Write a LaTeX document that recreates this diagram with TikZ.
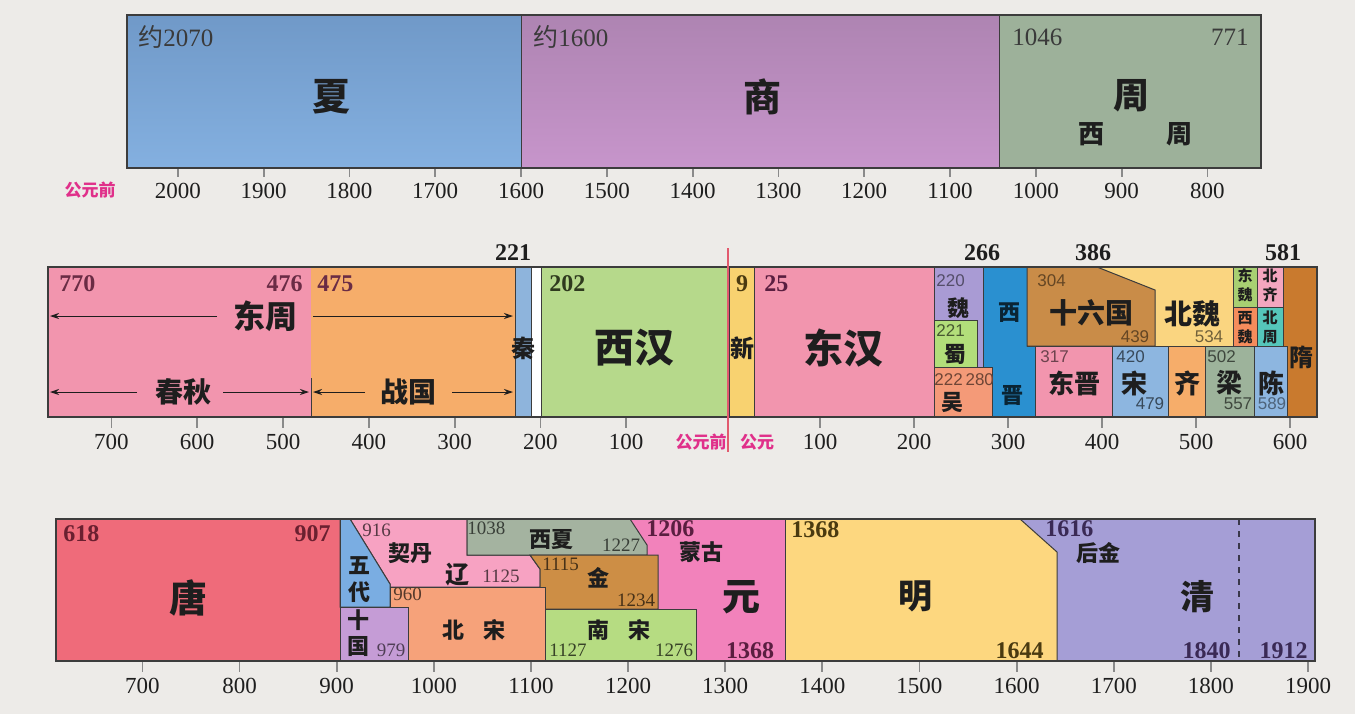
\documentclass[tikz,border=0pt]{standalone}
\usepackage{fontspec}
\setmainfont{Liberation Serif}
\newfontfamily\cjk{Noto Sans CJK SC}
\newfontfamily\lsans{Liberation Sans}
\usetikzlibrary{arrows.meta}
\definecolor{bg}{HTML}{EDEBE8}
\definecolor{lc}{HTML}{3C3C3C}
\definecolor{ink}{HTML}{1E1E1E}
\definecolor{tkc}{HTML}{8A8A8A}
\definecolor{mag}{HTML}{E0308A}
\definecolor{xiaA}{HTML}{7099C8}
\definecolor{xiaB}{HTML}{84B0E0}
\definecolor{shangA}{HTML}{AE84B2}
\definecolor{shangB}{HTML}{C795CB}
\definecolor{zhou}{HTML}{9DB19A}
\definecolor{mpink}{HTML}{F295AE}
\definecolor{morange}{HTML}{F6AD6A}
\definecolor{qin}{HTML}{8EB4DC}
\definecolor{xihan}{HTML}{B6D98B}
\definecolor{xin}{HTML}{F8D270}
\definecolor{wei}{HTML}{A99BD4}
\definecolor{shu}{HTML}{B2DE7A}
\definecolor{wu}{HTML}{F49A78}
\definecolor{xijin}{HTML}{2A90D0}
\definecolor{beiwei}{HTML}{FAD580}
\definecolor{sld}{HTML}{C98C48}
\definecolor{lblue}{HTML}{8DB6E0}
\definecolor{liang}{HTML}{9DB39B}
\definecolor{dongwei}{HTML}{A8CF72}
\definecolor{xiwei}{HTML}{F58C5C}
\definecolor{beiqi}{HTML}{F4A6BF}
\definecolor{beizhou}{HTML}{55C6BA}
\definecolor{sui}{HTML}{C97A2E}
\definecolor{tang}{HTML}{EF6B7A}
\definecolor{qing}{HTML}{A59ED6}
\definecolor{ming}{HTML}{FDD77F}
\definecolor{yuan}{HTML}{F282BB}
\definecolor{liao}{HTML}{F7A2C2}
\definecolor{xixia}{HTML}{A4B3A0}
\definecolor{jin}{HTML}{CD8E45}
\definecolor{wudai}{HTML}{7AADE2}
\definecolor{shiguo}{HTML}{C59CD6}
\definecolor{beisong}{HTML}{F6A27A}
\definecolor{nansong}{HTML}{B6DC82}
\definecolor{numA}{HTML}{6A2C45}
\definecolor{numB}{HTML}{5A1E40}
\definecolor{numC}{HTML}{4A3A10}
\definecolor{numD}{HTML}{3A2A55}
\definecolor{numE}{HTML}{2F3A1E}
\definecolor{numF}{HTML}{6A2030}
\definecolor{topnum}{HTML}{3A3A3A}
\definecolor{redl}{HTML}{E25A6E}
\tikzset{
  cn/.style={font=\cjk\bfseries\fontsize{#1}{#1}\selectfont,inner sep=0pt,text=ink},
  cn/.default=12,
  yr/.style={font=\bfseries\fontsize{12}{12}\selectfont,inner sep=0pt},
  topyr/.style={font=\fontsize{12.5}{12.5}\selectfont,inner sep=0pt,text=topnum},
  sm/.style={font=\lsans\fontsize{8.5}{8.5}\selectfont,inner sep=0pt},
  smr/.style={font=\fontsize{9.5}{9.5}\selectfont,inner sep=0pt},
  ax/.style={font=\fontsize{11.5}{11.5}\selectfont,inner sep=0pt,text=ink},
  tk/.style={draw=tkc,line width=0.9pt},
  obox/.style={draw=lc,line width=1pt},
  pbox/.style={draw=lc,line width=0.5pt},
  arr/.style={-{Stealth[length=4.5pt,width=3pt]},draw=ink,line width=0.5pt},
  bce/.style={font=\cjk\bfseries\fontsize{8.5}{8.5}\selectfont,inner sep=0pt,text=mag},
}
\begin{document}
\begin{tikzpicture}[x=0.5pt,y=-0.5pt]
\useasboundingbox (0,0) rectangle (1355,714);
\fill[bg] (0,0) rectangle (1355,714);

% ================= TOP ROW =================
\shade[top color=xiaA,bottom color=xiaB] (127,15) rectangle (521,168);
\shade[top color=shangA,bottom color=shangB] (521,15) rectangle (999,168);
\fill[zhou] (999,15) rectangle (1261,168);
\draw[pbox] (521,15) -- (521,168) (999,15) -- (999,168);
\draw[obox] (127,15) rectangle (1261,168);

\node[topyr,anchor=west] (n2070) at (138,37) {{\cjk 约}2070};
\node[topyr,anchor=west] (n1600) at (533,37) {{\cjk 约}1600};
\node[topyr,anchor=west] (n1046) at (1012,37) {1046};
\node[topyr,anchor=east] (n771) at (1249,37) {771};
\node[cn=19] (xia) at (331,97) {夏};
\node[cn=19] (shang) at (762,97) {商};
\node[cn=18] (zhou) at (1131,96) {周};
\node[cn=13] (xz1) at (1091,134) {西};
\node[cn=13] (xz2) at (1179,134) {周};

\node[bce] (bce1) at (90,190) {公元前};
\foreach \y in {2000,1900,...,800}{
  \pgfmathsetmacro{\xx}{521+(1600-\y)*0.858}
  \draw[tk] (\xx,169) -- (\xx,177);
  \node[ax] (ta\y) at (\xx,191) {\y};
}

% ================= MIDDLE ROW =================
\fill[mpink] (48,267) rectangle (311,417);
\fill[morange] (311,267) rectangle (515,417);
\filldraw[fill=qin,pbox] (515,267) rectangle (531,417);
\filldraw[fill=white,pbox] (531,267) rectangle (541,417);
\filldraw[fill=xihan,pbox] (541,267) rectangle (729,417);
\filldraw[fill=xin,pbox] (729,267) rectangle (754,417);
\filldraw[fill=mpink,pbox] (754,267) rectangle (934,417);
\filldraw[fill=wei,pbox] (934,267) rectangle (983,367);
\filldraw[fill=shu,pbox] (934,320) rectangle (977,367);
\filldraw[fill=wu,pbox] (934,367) rectangle (992,417);
\filldraw[fill=xijin,pbox] (983,267) -- (1027,267) -- (1027,346) -- (1035,346) -- (1035,417) -- (992,417) -- (992,367) -- (983,367) -- cycle;
\filldraw[fill=beiwei,pbox] (1027,267) rectangle (1233,346);
\filldraw[fill=sld,pbox] (1027,267) -- (1097,267) -- (1155,290) -- (1155,346) -- (1027,346) -- cycle;
\filldraw[fill=mpink,pbox] (1035,346) rectangle (1112,417);
\filldraw[fill=lblue,pbox] (1112,346) rectangle (1168,417);
\filldraw[fill=morange,pbox] (1168,346) rectangle (1205,417);
\filldraw[fill=liang,pbox] (1205,346) rectangle (1254,417);
\filldraw[fill=lblue,pbox] (1254,346) rectangle (1287,417);
\filldraw[fill=dongwei,pbox] (1233,267) rectangle (1257,307);
\filldraw[fill=xiwei,pbox] (1233,307) rectangle (1257,346);
\filldraw[fill=beiqi,pbox] (1257,267) rectangle (1283,307);
\filldraw[fill=beizhou,pbox] (1257,307) rectangle (1283,346);
\filldraw[fill=sui,pbox] (1283,267) -- (1317,267) -- (1317,417) -- (1287,417) -- (1287,346) -- (1283,346) -- cycle;
\draw[pbox] (311,378) -- (311,417);
\draw[obox] (48,267) rectangle (1317,417);

% labels
\node[yr,text=numA,anchor=west] (n770) at (59,284) {770};
\node[yr,text=numA,anchor=east] (n476) at (303,284) {476};
\node[yr,text=numA,anchor=west] (n475) at (317,284) {475};
\node[cn=16] (dongzhou) at (265,316) {东周};
\coordinate (dzA) at (217,316);
\coordinate (dzL) at (50,316);
\coordinate (dzB) at (313,316);
\coordinate (dzR) at (513,316);
\draw[arr] (dzA) -- (dzL);
\draw[arr] (dzB) -- (dzR);
\node[cn=14] (chunqiu) at (183,392) {春秋};
\coordinate (cqA) at (137,392);
\coordinate (cqL) at (50,392);
\coordinate (cqB) at (223,392);
\coordinate (cqR) at (309,392);
\draw[arr] (cqA) -- (cqL);
\draw[arr] (cqB) -- (cqR);
\node[cn=14] (zhanguo) at (408,392) {战国};
\coordinate (zgA) at (365,392);
\coordinate (zgL) at (313,392);
\coordinate (zgB) at (452,392);
\coordinate (zgR) at (513,392);
\draw[arr] (zgA) -- (zgL);
\draw[arr] (zgB) -- (zgR);

\node[cn=12] (qin) at (523,348) {秦};
\node[yr,text=ink] (n221) at (513,253) {221};
\node[yr,text=numE,anchor=west] (n202) at (549,284) {202};
\node[cn=20] (xihan) at (634,348) {西汉};
\node[cn=12] (xin) at (742,348) {新};
\node[yr,text=numC] (n9) at (742,284) {9};
\node[yr,text=numB,anchor=west] (n25) at (764,284) {25};
\node[cn=20] (donghan) at (843,348) {东汉};

\draw[redl,line width=0.9pt] (728,248) -- (728,452);
\node[bce] (bce2) at (701,442) {公元前};
\node[bce] (ce) at (757,442) {公元};

\node[sm,text=wei!50!black,anchor=west] (n220) at (936,281) {220};
\node[cn=11] (weiT) at (958,308) {魏};
\node[sm,text=shu!40!black,anchor=west] (n221b) at (936,331) {221};
\node[cn=11] (shuT) at (955,354) {蜀};
\node[sm,text=wu!45!black,anchor=west] (n222) at (934,380) {222\,280};
\node[cn=11] (wuT) at (952,402) {吴};
\node[cn=11,text=xijin!25!black] (xjA) at (1009,313) {西};
\node[cn=11,text=xijin!25!black] (xjB) at (1012,396) {晋};
\node[sm,text=sld!50!black,anchor=west] (n304) at (1037,281) {304};
\node[cn=14] (sld) at (1091,313) {十六国};
\node[sm,text=sld!50!black] (n439) at (1135,337) {439};
\node[cn=14] (bw) at (1192,314) {北魏};
\node[sm,text=beiwei!45!black] (n534) at (1209,337) {534};
\node[sm,text=mpink!45!black,anchor=west] (n317) at (1040,357) {317};
\node[cn=13] (dj) at (1074,383) {东晋};
\node[sm,text=lblue!40!black,anchor=west] (n420) at (1116,357) {420};
\node[cn=13] (song) at (1134,383) {宋};
\node[sm,text=lblue!40!black] (n479) at (1150,404) {479};
\node[cn=13] (qi) at (1187,383) {齐};
\node[sm,text=liang!40!black,anchor=west] (n502) at (1207,357) {502};
\node[cn=13] (liang) at (1229,383) {梁};
\node[sm,text=liang!40!black] (n557) at (1238,404) {557};
\node[cn=13] (chen) at (1271,383) {陈};
\node[sm,text=lblue!55!black] (n589) at (1272,404) {589};
\node[cn=7.5] (dwA) at (1245,276) {东};
\node[cn=7.5] (dwB) at (1245,295) {魏};
\node[cn=7.5] (xwA) at (1245,318) {西};
\node[cn=7.5] (xwB) at (1245,337) {魏};
\node[cn=7.5] (bqA) at (1270,276) {北};
\node[cn=7.5] (bqB) at (1270,295) {齐};
\node[cn=7.5] (bzA) at (1270,318) {北};
\node[cn=7.5] (bzB) at (1270,337) {周};
\node[cn=12] (suiT) at (1301,357) {隋};
\node[yr,text=ink] (n266) at (982,253) {266};
\node[yr,text=ink] (n386) at (1093,253) {386};
\node[yr,text=ink] (n581) at (1283,253) {581};

\foreach \y in {700,600,...,100}{
  \pgfmathsetmacro{\xx}{283+(500-\y)*0.858}
  \draw[tk] (\xx,418) -- (\xx,428);
  \node[ax] (tb\y) at (\xx,442) {\y};
}
\foreach \y in {100,200,...,600}{
  \pgfmathsetmacro{\xx}{726+\y*0.94}
  \draw[tk] (\xx,418) -- (\xx,428);
  \node[ax] (tc\y) at (\xx,442) {\y};
}

% ================= BOTTOM ROW =================
\fill[tang] (56,519) rectangle (340,661);
\fill[qing] (1020,519) rectangle (1315,661);
\filldraw[fill=ming,pbox] (785,519) -- (1020,519) -- (1057,552) -- (1057,661) -- (785,661) -- cycle;
\filldraw[fill=yuan,pbox] (530,519) rectangle (785,661);
\filldraw[fill=liao,pbox] (350,519) -- (467,519) -- (467,555) -- (530,555) -- (540,569) -- (540,587) -- (390,587) -- (390,584) -- cycle;
\filldraw[fill=xixia,pbox] (467,519) -- (630,519) -- (647,545) -- (647,555) -- (467,555) -- cycle;
\filldraw[fill=jin,pbox] (530,555) -- (658,555) -- (658,609) -- (540,609) -- (540,569) -- cycle;
\filldraw[fill=wudai,pbox] (340,519) -- (350,519) -- (390,584) -- (390,607) -- (340,607) -- cycle;
\filldraw[fill=beisong,pbox] (390,587) rectangle (545,661);
\filldraw[fill=shiguo,pbox] (340,607) rectangle (408,661);
\filldraw[fill=nansong,pbox] (545,609) rectangle (696,661);
\draw[pbox] (340,519) -- (340,661);
\draw[dashed,draw=qing!35!black,line width=0.8pt] (1239,519) -- (1239,661);
\draw[obox] (56,519) rectangle (1315,661);

\node[yr,text=numF,anchor=west] (n618) at (63,534) {618};
\node[yr,text=numF,anchor=east] (n907) at (331,534) {907};
\node[cn=19] (tangT) at (188,598) {唐};
\node[cn=11] (wdA) at (359,566) {五};
\node[cn=11] (wdB) at (359,592) {代};
\node[cn=11] (sgA) at (358,620) {十};
\node[cn=11] (sgB) at (358,646) {国};
\node[smr,text=shiguo!40!black] (n979) at (391,650) {979};
\node[smr,text=liao!35!black,anchor=west] (n916) at (362,530) {916};
\node[cn=11] (qidan) at (410,553) {契丹};
\node[cn=12] (liaoT) at (457,575) {辽};
\node[smr,text=liao!35!black] (n1125) at (501,576) {1125};
\node[smr,text=xixia!35!black,anchor=west] (n1038) at (467,528) {1038};
\node[cn=11] (xixiaT) at (551,540) {西夏};
\node[smr,text=xixia!35!black] (n1227) at (621,545) {1227};
\node[smr,text=jin!35!black,anchor=west] (n1115) at (542,564) {1115};
\node[cn=11] (jinT) at (598,578) {金};
\node[smr,text=jin!35!black] (n1234) at (636,600) {1234};
\node[smr,text=beisong!35!black,anchor=west] (n960) at (393,594) {960};
\node[cn=11] (bsT) at (474,630) {北\hspace{0.9em}宋};
\node[cn=11] (nsT) at (619,630) {南\hspace{0.9em}宋};
\node[smr,text=nansong!30!black] (n1127) at (568,650) {1127};
\node[smr,text=nansong!30!black] (n1276) at (674,650) {1276};
\node[yr,text=numB,anchor=west] (n1206) at (646,529) {1206};
\node[cn=11] (menggu) at (701,552) {蒙古};
\node[cn=19] (yuanT) at (741,597) {元};
\node[yr,text=numB] (n1368a) at (750,651) {1368};
\node[yr,text=numC,anchor=west] (n1368b) at (791,530) {1368};
\node[cn=17] (mingT) at (915,596) {明};
\node[yr,text=numC,anchor=east] (n1644) at (1044,651) {1644};
\node[yr,text=numD,anchor=west] (n1616) at (1045,529) {1616};
\node[cn=11] (houjin) at (1098,553) {后金};
\node[cn=17] (qingT) at (1197,597) {清};
\node[yr,text=numD,anchor=east] (n1840) at (1231,651) {1840};
\node[yr,text=numD,anchor=east] (n1912) at (1308,651) {1912};

\foreach \y in {700,800,...,1900}{
  \pgfmathsetmacro{\xx}{336.7+(\y-900)*0.9713}
  \draw[tk] (\xx,662) -- (\xx,672);
  \node[ax] (td\y) at (\xx,686) {\y};
}
\end{tikzpicture}
\end{document}
